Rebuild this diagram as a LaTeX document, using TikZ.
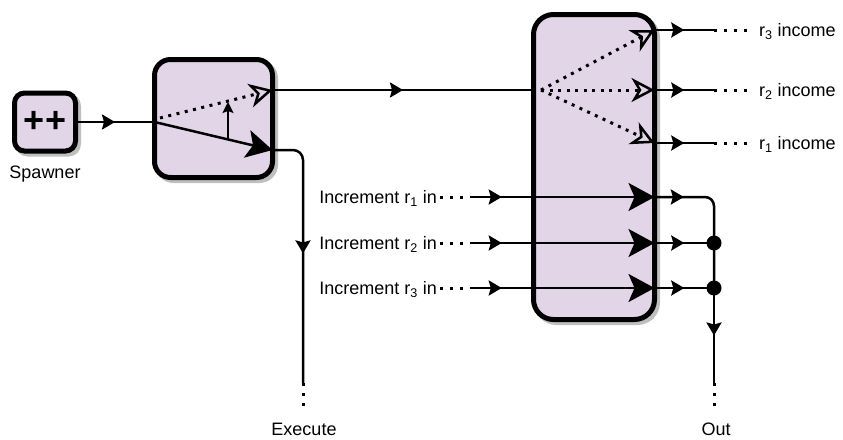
\documentclass[tikz,border=0pt]{standalone}
\usepackage{fontspec}
\setmainfont{Liberation Sans}
\usetikzlibrary{arrows.meta, shadows, decorations.markings, positioning}
\definecolor{lilac}{HTML}{E1D5E7}
\tikzstyle{unit} = [rectangle, draw, line width=5pt, fill=lilac, outer sep=0pt,
    rounded corners=16pt,
    drop shadow={shadow xshift=3pt, shadow yshift=-3pt, fill=black!25,
    draw=black!25, line width=5pt, opacity=1}]
\tikzstyle{wire} = [draw, line width=2.5pt]
\tikzstyle{dots} = [draw, line width=3pt, dash pattern=on 3pt off 7pt]
\tikzstyle{fan} = [draw, line width=3pt, dash pattern=on 3pt off 5.5pt,
    -{Stealth[open, length=23pt, width=24pt, inset=7pt, line width=2.5pt]}]
\tikzstyle{push} = [wire, -{Stealth[length=26pt, width=28pt, inset=6pt]}]
\tikzstyle{txt} = [inner sep=0pt]
\tikzstyle{junction} = [circle, fill, inner sep=0pt, minimum size=15pt]
\tikzset{midarrow/.style={postaction={decorate}, decoration={markings,
    mark=at position #1 with {\arrow{Stealth[length=13pt, width=15pt, inset=2pt]}}}},
    midarrow/.default=0.5}

\begin{document}
\begin{tikzpicture}[x=1pt, y=-1pt, font=\fontsize{18}{21}\selectfont]
    \useasboundingbox (0,0) rectangle (843,439);

    % boxes
    \node [unit, minimum width=61pt, minimum height=58pt, rounded corners=10pt,
        font=\fontsize{36}{36}\selectfont\bfseries] (spawner) at (45,122) {++};
    \node [txt, below=15pt of spawner] (spawnlbl) {Spawner};
    \node [unit, minimum width=118pt, minimum height=118pt] (router) at (213.5,118.5) {};
    \node [unit, minimum width=121pt, minimum height=305pt, rounded corners=20pt] (bank) at (594,167) {};

    % points on the wires
    \coordinate (rin) at (router.west |- spawner.east);
    \coordinate (rlow) at (272.5,150);
    \coordinate (rup) at (272.5,90);
    \coordinate (rdot) at (160,118);
    \coordinate (k1) at (228,139);
    \coordinate (k2) at (228,102);
    \coordinate (fanpt) at (541,90);
    \coordinate (e1) at (303,383);
    \coordinate (e2) at (303,411);
    \coordinate (o1) at (714,383);
    \coordinate (o2) at (714,411);

    % spawner -> router
    \path [wire, midarrow] (spawner.east) -- (rin);
    \path [push] (rin) -- (rlow);
    \path [fan] (rdot) -- (rup);
    \draw [line width=1.8pt, -{Stealth[length=11pt, width=11pt, inset=2pt]}] (k1) -- (k2);

    % router -> bank and execute
    \path [wire, midarrow] (rup) -- (bank.west |- rup);
    \path [wire, midarrow, rounded corners=10pt] (rlow) -| (e1);
    \path [dots] (e1) -- (e2);
    \node [txt] (exec) at (304,429) {Execute};

    % income side
    \foreach \y/\i in {30/3, 90/2, 143/1} {
        \coordinate (s\i) at (714,\y);
        \path [fan] (fanpt) -- (bank.east |- s\i);
        \path [wire, midarrow] (bank.east |- s\i) -- (s\i);
        \node [txt, anchor=base west] (inc\i) at (759,\y+6.3) {r\textsubscript{\i} income};
        \path [dots, shorten >=12pt] (s\i) -- (inc\i.west |- s\i);
    }

    % increment side
    \foreach \y/\i in {197/1, 243/2, 288/3} {
        \coordinate (q\i) at (470,\y);
        \node [txt, anchor=base east] (in\i) at (437,\y+6.3) {Increment r\textsubscript{\i} in};
        \path [dots, shorten <=3pt] (in\i.east |- q\i) -- (q\i);
        \path [wire, midarrow] (q\i) -- (bank.west |- q\i);
        \path [push] (bank.west |- q\i) -- (bank.east |- q\i);
    }

    % out
    \node [junction] (j2) at (714,243) {};
    \node [junction] (j3) at (714,288) {};
    \path [wire, midarrow=0.2, rounded corners=9pt] (bank.east |- q1) -| (j3.center);
    \path [wire, midarrow] (bank.east |- q2) -- (j2.center);
    \path [wire, midarrow] (bank.east |- q3) -- (j3.center);
    \path [wire, midarrow] (j3.center) -- (o1);
    \path [dots] (o1) -- (o2);
    \node [txt] (outlbl) at (716,429) {Out};

\end{tikzpicture}
\end{document}
